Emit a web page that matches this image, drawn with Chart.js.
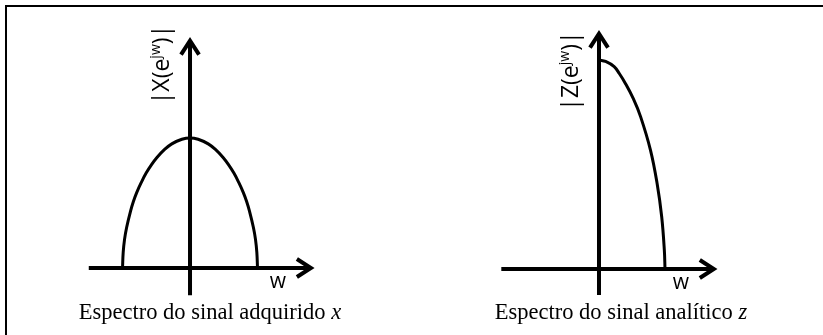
<!DOCTYPE html>
<html>
<head>
<meta charset="utf-8">
<script src="https://cdn.jsdelivr.net/npm/chart.js@4.4.1/dist/chart.umd.min.js"></script>
<style>
  html, body { margin: 0; padding: 0; background: #fff; }
  body { width: 823px; height: 335px; position: relative; overflow: hidden; }
  .frame {
    position: absolute; left: 5px; top: 5px; right: 0; bottom: 0;
    border-top: 2px solid #000; border-left: 2px solid #000;
  }
  .plot { position: absolute; top: 10px; }
  .caption {
    position: absolute; top: 299px; line-height: 22px;
    font: 22.5px "Liberation Serif", "Times New Roman", serif;
    white-space: nowrap; transform: translateX(-50%); color: #000;
  }
</style>
</head>
<body>
<div class="frame"></div>
<canvas id="specX" class="plot" style="left:10px" width="390" height="300"></canvas>
<canvas id="specZ" class="plot" style="left:420px" width="390" height="300"></canvas>
<div class="caption" style="left:210px">Espectro do sinal adquirido <i>x</i></div>
<div class="caption" style="left:621px">Espectro do sinal analítico <i>z</i></div>

<script>
/* ===============================
   SPECTRUM DATA
================================ */
// |X(e^jw)| - two-sided spectrum of the acquired signal
const wX = [-1, -0.99, -0.97, -0.94, -0.88, -0.84, -0.79, -0.72, -0.65, -0.57,
            -0.49, -0.38, -0.27, -0.12, 0,
            0.12, 0.27, 0.38, 0.49, 0.57, 0.65, 0.72, 0.79, 0.84, 0.88,
            0.94, 0.97, 0.99, 1];
const magX = [0, 0.12, 0.22, 0.31, 0.44, 0.51, 0.58, 0.66, 0.73, 0.795,
              0.85, 0.91, 0.955, 0.99, 1,
              0.99, 0.955, 0.91, 0.85, 0.795, 0.73, 0.66, 0.58, 0.51, 0.44,
              0.31, 0.22, 0.12, 0];

// |Z(e^jw)| - analytic signal, positive frequencies only
const wZ = [0, 0.1, 0.23, 0.31, 0.4, 0.52, 0.63, 0.78, 0.88, 0.95, 0.99, 1];
const magZ = [1, 0.993, 0.968, 0.934, 0.888, 0.815, 0.729, 0.569, 0.41, 0.25, 0.09, 0];

// axis extents (same units as the data)
const axisX = { xFrom: -1.5, xTo: 1.85, yFrom: -0.21, yTo: 1.78 };
const axisZ = { xFrom: -1.48, xTo: 1.8, yFrom: -0.125, yTo: 1.145 };


/* ===============================
   AXES + ARROWS + LABELS
================================ */
const axesArrows = {
  id: "axesArrows",
  afterDatasetsDraw(chart, args, opts) {
    const { ctx, scales: { x, y } } = chart;
    const x0 = x.getPixelForValue(0);
    const y0 = y.getPixelForValue(0);
    const xa = x.getPixelForValue(opts.xFrom);
    const xb = x.getPixelForValue(opts.xTo);
    const ya = y.getPixelForValue(opts.yFrom);
    const yb = y.getPixelForValue(opts.yTo);

    ctx.save();
    ctx.strokeStyle = "#000";
    ctx.fillStyle = "#000";
    ctx.lineWidth = 4;
    ctx.lineJoin = "miter";

    ctx.beginPath();
    ctx.moveTo(xa, y0); ctx.lineTo(xb - 4, y0);
    ctx.moveTo(x0, ya); ctx.lineTo(x0, yb + 4);
    ctx.stroke();

    // open chevron heads
    ctx.beginPath();
    ctx.moveTo(xb - 18, y0 - 9); ctx.lineTo(xb - 4, y0); ctx.lineTo(xb - 18, y0 + 9);
    ctx.moveTo(x0 - 9, yb + 18); ctx.lineTo(x0, yb + 4); ctx.lineTo(x0 + 9, yb + 18);
    ctx.stroke();

    // frequency label
    ctx.font = '21px "Open Sans", sans-serif';
    ctx.textAlign = "center";
    ctx.textBaseline = "middle";
    ctx.fillText("w", xb - 37, y0 + 14);

    // rotated magnitude label |S(e^jw)|
    const big = '23px "Open Sans", sans-serif';
    const small = '14px "Open Sans", sans-serif';
    const head = "|" + opts.letter + "(e", sup = "jw", tail = ")|";
    ctx.font = big;
    const wHead = ctx.measureText(head).width;
    const wTail = ctx.measureText(tail).width;
    ctx.font = small;
    const wSup = ctx.measureText(sup).width;
    const total = wHead + wSup + wTail;

    ctx.translate(x0 - 21, y.getPixelForValue(opts.labelAt));
    ctx.rotate(-Math.PI / 2);
    ctx.textAlign = "left";
    ctx.textBaseline = "alphabetic";
    let cx = -total / 2;
    ctx.font = big;
    ctx.fillText(head, cx, 0);
    cx += wHead;
    ctx.font = small;
    ctx.fillText(sup, cx, -9);
    cx += wSup;
    ctx.font = big;
    ctx.fillText(tail, cx, 0);
    ctx.restore();
  }
};


/* ===============================
   CHART FACTORY
================================ */
function spectrumChart(id, w, mag, axis, scale, letter, labelAt) {
  new Chart(document.getElementById(id), {
    type: "line",
    data: {
      datasets: [{
        data: w.map((v, i) => ({ x: v, y: mag[i] })),
        borderColor: "#000",
        borderWidth: 3,
        pointRadius: 0,
        tension: 0.4,
        fill: false
      }]
    },
    options: {
      responsive: false,
      animation: false,
      events: [],
      layout: { padding: 0 },
      plugins: {
        legend: { display: false },
        tooltip: { enabled: false },
        axesArrows: { ...axis, letter, labelAt }
      },
      scales: {
        x: { type: "linear", display: false, min: scale.xMin, max: scale.xMax },
        y: { type: "linear", display: false, min: scale.yMin, max: scale.yMax }
      }
    },
    plugins: [axesArrows]
  });
}

spectrumChart("specX", wX, magX, axisX,
  { xMin: -2.667, xMax: 3.111, yMin: -0.323, yMax: 1.9846 }, "X", 1.565);

spectrumChart("specZ", wZ, magZ, axisZ,
  { xMin: -2.712, xMax: 3.197, yMin: -0.1962, yMax: 1.2392 }, "Z", 0.947);
</script>
</body>
</html>
